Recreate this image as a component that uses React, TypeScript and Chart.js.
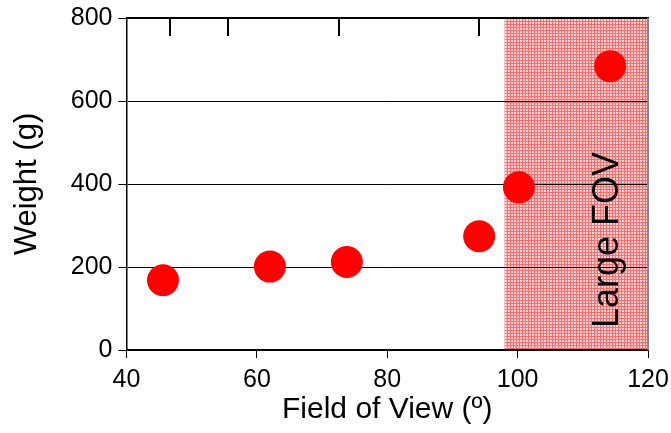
import React, { useEffect, useRef } from "react";
import { Chart, registerables } from "chart.js";

Chart.register(...registerables);

const fovValues = [45.6, 62.0, 73.8, 94.1, 100.2, 114.2];
const weightValues = [168, 201, 212, 274, 392, 684];
const topTickValues = [46.6, 55.5, 72.6, 94.0];
const shadeRange = [98, 120];
const shadeLabel = "Large FOV";
const xTitle = "Field of View (º)";
const yTitle = "Weight (g)";

const FONT = "'Liberation Sans', Arial, sans-serif";

function makePattern(ctx: CanvasRenderingContext2D) {
  const c = document.createElement("canvas");
  c.width = 3;
  c.height = 3;
  const p = c.getContext("2d")!;
  p.fillStyle = "rgb(255,212,212)";
  p.fillRect(0, 0, 3, 3);
  p.fillStyle = "rgb(255,110,110)";
  p.fillRect(0, 0, 1, 3);
  p.fillRect(0, 0, 3, 1);
  return ctx.createPattern(c, "repeat")!;
}

const decorPlugin = {
  id: "decor",
  beforeDraw(chart: any) {
    const { ctx, chartArea, scales } = chart;
    const x = scales.x;
    const x0 = x.getPixelForValue(shadeRange[0]);
    const x1 = x.getPixelForValue(shadeRange[1]);
    ctx.save();
    ctx.fillStyle = makePattern(ctx);
    ctx.fillRect(x0, chartArea.top, x1 - x0, chartArea.bottom - chartArea.top);
    ctx.restore();
  },
  afterDatasetsDraw(chart: any) {
    const { ctx, chartArea, scales } = chart;
    const x = scales.x;
    ctx.save();
    ctx.strokeStyle = "#000";
    ctx.lineWidth = 2;
    ctx.beginPath();
    ctx.moveTo(chartArea.left, chartArea.top);
    ctx.lineTo(chartArea.right + 1, chartArea.top);
    ctx.stroke();
    ctx.strokeStyle = "#888";
    ctx.beginPath();
    ctx.moveTo(chartArea.right, chartArea.top);
    ctx.lineTo(chartArea.right, chartArea.bottom);
    ctx.stroke();
    ctx.strokeStyle = "#000";
    ctx.lineWidth = 2;
    topTickValues.forEach((v) => {
      const px = Math.round(x.getPixelForValue(v));
      ctx.beginPath();
      ctx.moveTo(px, chartArea.top);
      ctx.lineTo(px, chartArea.top + 18);
      ctx.stroke();
    });
    const cx = x.getPixelForValue(shadeRange[0]) + 113;
    const cy = 240;
    ctx.translate(cx, cy);
    ctx.rotate(-Math.PI / 2);
    ctx.fillStyle = "#000";
    ctx.font = `36px ${FONT}`;
    ctx.textAlign = "center";
    ctx.textBaseline = "alphabetic";
    ctx.fillText(shadeLabel, 0, 0);
    ctx.restore();
  },
};

export default function App() {
  const ref = useRef<HTMLCanvasElement>(null);
  useEffect(() => {
    const chart = new Chart(ref.current!, {
      type: "scatter",
      data: {
        datasets: [
          {
            data: fovValues.map((v, i) => ({ x: v, y: weightValues[i] })),
            backgroundColor: "#ff0000",
            borderWidth: 0,
            pointRadius: 16,
            pointHoverRadius: 16,
          },
        ],
      },
      options: {
        responsive: false,
        animation: false,
        layout: { padding: { left: 0, right: 23, top: 18, bottom: 0 } },
        plugins: { legend: { display: false }, tooltip: { enabled: false } },
        scales: {
          x: {
            type: "linear",
            min: 40,
            max: 120,
            afterFit: (s: any) => {
              s.height = 83;
              s.paddingLeft = 0;
              s.paddingRight = 0;
            },
            ticks: {
              stepSize: 20,
              color: "#000",
              font: { family: FONT, size: 25 },
              padding: 7,
              maxRotation: 0,
            },
            grid: {
              drawOnChartArea: false,
              drawTicks: true,
              tickLength: 8,
              color: "#000",
            },
            border: { color: "#000", width: 1.5 },
            title: {
              display: true,
              text: xTitle,
              color: "#000",
              font: { family: FONT, size: 30 },
              padding: { top: 0, bottom: 5 },
            },
          },
          y: {
            min: 0,
            max: 800,
            afterFit: (s: any) => {
              s.width = 126.5;
              s.paddingTop = 0;
              s.paddingBottom = 0;
            },
            ticks: {
              stepSize: 200,
              color: "#000",
              font: { family: FONT, size: 25 },
              padding: 6,
            },
            grid: {
              color: "#000",
              lineWidth: 1,
              tickLength: 8,
            },
            border: { color: "#000", width: 1.5 },
            title: {
              display: true,
              text: yTitle,
              color: "#000",
              font: { family: FONT, size: 31 },
              padding: { top: 9, bottom: 0 },
            },
          },
        },
      },
      plugins: [decorPlugin],
    });
    return () => chart.destroy();
  }, []);
  return (
    <div style={{ position: "absolute", left: 0, top: 0, width: 671, height: 433 }}>
      <canvas ref={ref} width={671} height={433} />
    </div>
  );
}
